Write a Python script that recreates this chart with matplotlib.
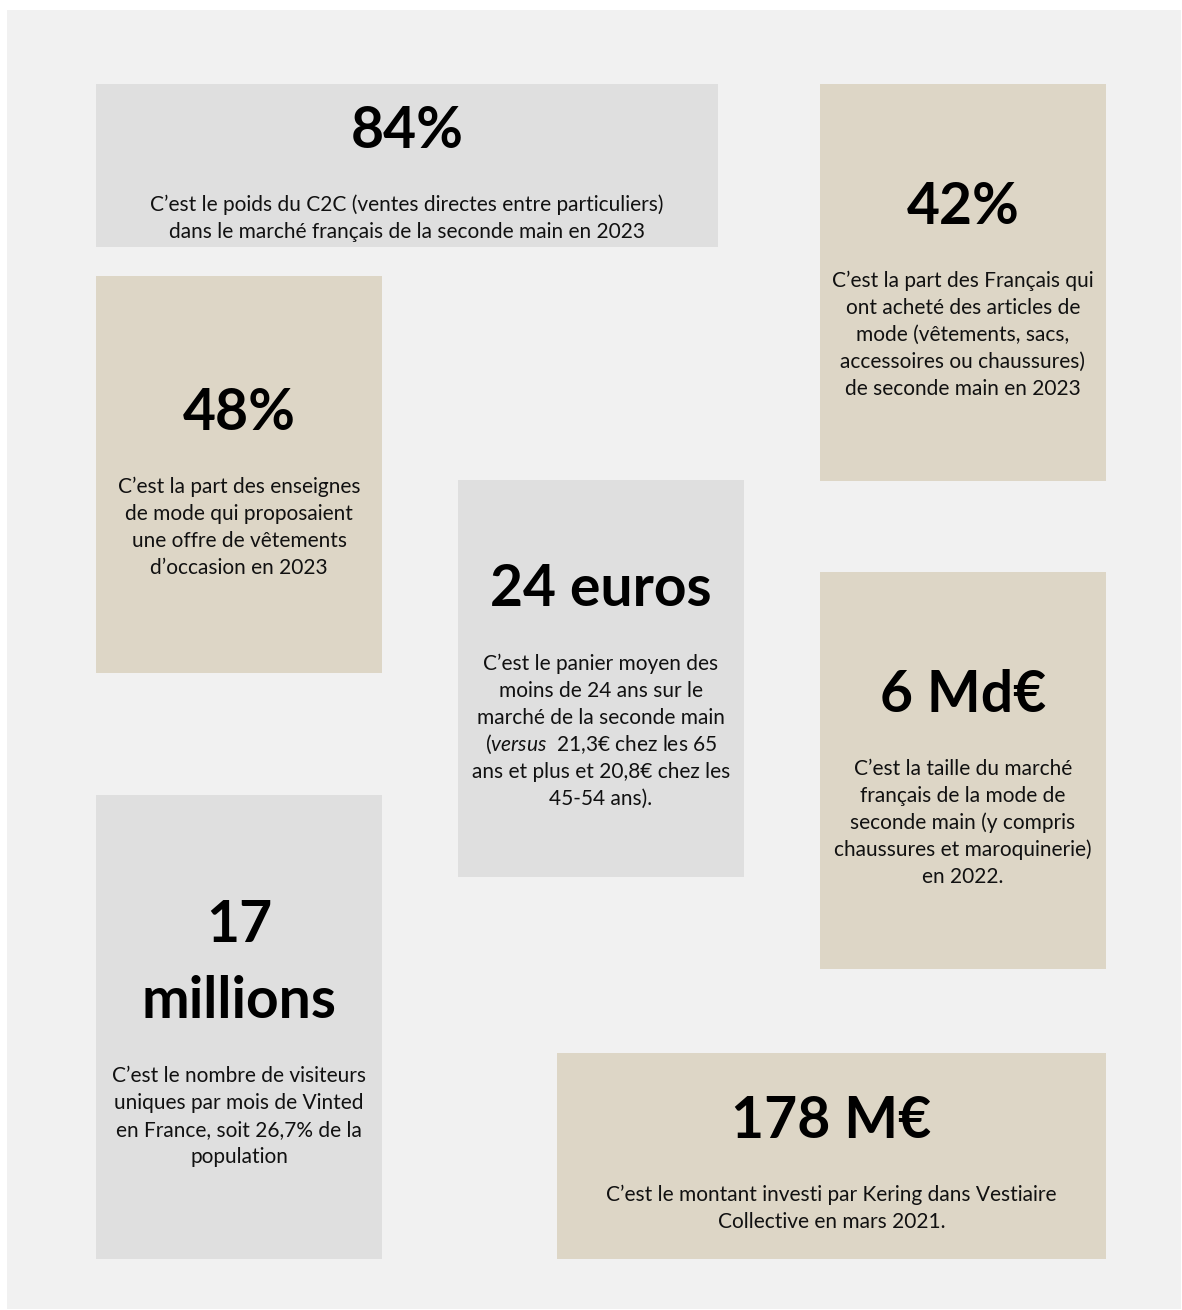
import matplotlib
matplotlib.use("Agg")
import matplotlib.pyplot as plt
from matplotlib.patches import Rectangle

plt.rcParams['font.family'] = ['Lato', 'DejaVu Sans']
plt.rcParams['mathtext.fontset'] = 'custom'
plt.rcParams['mathtext.rm'] = 'Lato'
plt.rcParams['mathtext.it'] = 'Lato:italic'

# ---- content ----
stats = ["84%", "42%", "48%", "24 euros", "6 Md€", "17\nmillions", "178 M€"]
descriptions = [
    ["C\u2019est le poids du C2C (ventes directes entre particuliers)",
     "dans le marché français de la seconde main en 2023"],
    ["C\u2019est la part des Français qui", "ont acheté des articles de",
     "mode (vêtements, sacs,", "accessoires ou chaussures)", "de seconde main en 2023"],
    ["C\u2019est la part des enseignes", "de mode qui proposaient",
     "une offre de vêtements", "d\u2019occasion en 2023"],
    ["C\u2019est le panier moyen des", "moins de 24 ans sur le",
     "marché de la seconde main", "($\\mathit{versus}$  21,3€ chez les 65",
     "ans et plus et 20,8€ chez les", "45-54 ans)."],
    ["C\u2019est la taille du marché", "français de la mode de",
     "seconde main (y compris", "chaussures et maroquinerie)", "en 2022."],
    ["C\u2019est le nombre de visiteurs", "uniques par mois de Vinted",
     "en France, soit 26,7% de la", "population"],
    ["C\u2019est le montant investi par Kering dans Vestiaire",
     "Collective en mars 2021."],
]
tones = ["gray", "beige", "beige", "gray", "beige", "gray", "beige"]

# ---- layout (pixels) ----
W, H = 1182, 1310
boxes = [  # x0, y0, x1, y1
    (96, 84, 718, 247),
    (820, 84, 1106, 481),
    (96, 276, 382, 673),
    (458, 480, 744, 877),
    (820, 572, 1106, 969),
    (96, 795, 382, 1259),
    (557, 1053, 1106, 1259),
]
stat_y = [131, 207, 413, 589, 695, [926, 1001], 1121]
desc_y0 = [205, 281, 487, 664, 769, 1076, 1195]
line_h = 26.9
colors = {"gray": "#DFDFDF", "beige": "#DDD6C6"}

fig = plt.figure(figsize=(W / 100, H / 100), dpi=100)
fig.patch.set_facecolor("white")
ax = fig.add_axes([0, 0, 1, 1])
ax.set_xlim(0, W)
ax.set_ylim(H, 0)
ax.axis("off")

ax.add_patch(Rectangle((7, 10), 1174, 1299, facecolor="#F1F1F1", edgecolor="none"))

for i, (x0, y0, x1, y1) in enumerate(boxes):
    ax.add_patch(Rectangle((x0, y0), x1 - x0, y1 - y0,
                           facecolor=colors[tones[i]], edgecolor="none"))
    cx = (x0 + x1) / 2
    parts = stats[i].split("\n")
    ys = stat_y[i] if isinstance(stat_y[i], list) else [stat_y[i]]
    for p, yy in zip(parts, ys):
        ax.text(cx, yy, p, ha="center", va="center", fontsize=41,
                fontweight="bold", color="black")
    for k, line in enumerate(descriptions[i]):
        ax.text(cx, desc_y0[i] + k * line_h, line, ha="center", va="center",
                fontsize=15, color="#111111")

fig.savefig("out.png", dpi=100)
